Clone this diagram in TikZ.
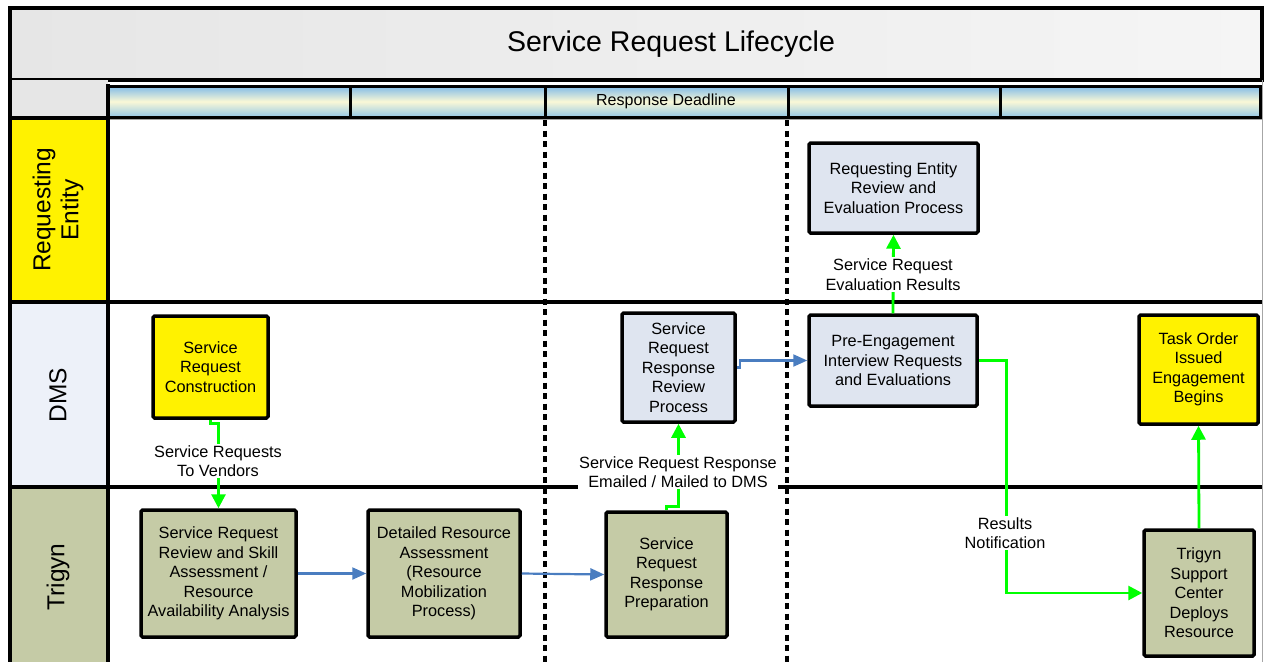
\documentclass[tikz,border=0pt]{standalone}
\usepackage{fontspec}
\setmainfont{Liberation Sans}
\usetikzlibrary{arrows.meta}
\definecolor{olivebox}{HTML}{C5CBA6}
\definecolor{bluebox}{HTML}{DFE5F0}
\definecolor{dmscell}{HTML}{EDF1F9}
\definecolor{graycell}{HTML}{E6E6E6}
\definecolor{gline}{HTML}{00FF00}
\definecolor{bline}{HTML}{4A7DC0}
\definecolor{bartop}{HTML}{7FBAE8}
\definecolor{barmid}{HTML}{FAF8D6}
\definecolor{barbot}{HTML}{95C8E6}
\tikzset{
  procbox/.style={draw=black, line width=3.5pt, rounded corners=1.5pt, align=center, inner sep=0pt,
     font=\fontsize{16.3}{19.5}\selectfont},
  greenflow/.style={draw=gline, line width=2.8pt, -{Triangle[length=14pt,width=14pt]}},
  blueflow/.style={draw=bline, line width=2.2pt, -{Triangle[length=14pt,width=12pt]}},
  flowlabel/.style={fill=white, align=center, inner sep=1.5pt, font=\fontsize{16.3}{19.5}\selectfont},
  lanelabel/.style={rotate=90, align=center, font=\fontsize{24.5}{28}\selectfont},
  laneline/.style={line width=3.2pt, black},
  deadline/.style={line width=3.5pt, black, dash pattern=on 6pt off 4.5pt},
  barseg/.style={top color=bartop, bottom color=barbot, middle color=barmid},
}
\begin{document}
\begin{tikzpicture}[x=1pt,y=-1pt]
\useasboundingbox (0,0) rectangle (1265,662);
% title
\shade[left color=graycell, right color=graycell!40!white] (10,8) rectangle (1262,80);
\draw[line width=3.5pt] (10,8) rectangle (1262,80);
\node[font=\fontsize{28.5}{30}\selectfont] (title) at (671,44) {Service Request Lifecycle};
% header row
\fill[graycell] (10,80) rectangle (108,118);
\foreach \a/\b in {108/350,350/545,545/788,788/1000,1000/1260}{
  \shade[barseg] (\a,86) rectangle (\b,117);
  \draw[line width=3pt] (\a,86) rectangle (\b,117);
}
\node[font=\fontsize{16}{18}\selectfont] (deadlinelabel) at (666,101) {Response Deadline};
% lane label cells
\fill[yellow] (10,118) rectangle (108,302);
\fill[dmscell] (10,302) rectangle (108,487);
\fill[olivebox] (10,487) rectangle (108,662);
\draw[gray!70, line width=0.8pt] (108,119) -- (1262,119);
\draw[gray!70, line width=0.8pt] (1262,80) -- (1262,662);
% lane lines
\draw[laneline] (10,118) -- (108,118);
\draw[laneline] (10,302) -- (1262,302);
\draw[laneline] (10,487) -- (1262,487);
\draw[laneline] (10,8) -- (10,662);
\draw[laneline] (108,84) -- (108,662);
% lane labels
\node[lanelabel] (lreq) at (58,210) {Requesting\\Entity};
\node[lanelabel] (ldms) at (58,395) {DMS};
\node[lanelabel] (ltri) at (58,577) {Trigyn};
% deadlines
\draw[deadline] (545,120) -- (545,662);
\draw[deadline] (787,120) -- (787,662);
% process boxes
\node[procbox, fill=yellow, minimum width=115pt, minimum height=102pt] (src) at (210.5,367) {Service\\Request\\Construction};
\node[procbox, fill=olivebox, minimum width=155pt, minimum height=127pt] (srrsa) at (218.5,573.5) {Service Request\\Review and Skill\\Assessment /\\Resource\\Availability Analysis};
\node[procbox, fill=olivebox, minimum width=152pt, minimum height=127pt] (dra) at (444,573.5) {Detailed Resource\\Assessment\\(Resource\\Mobilization\\Process)};
\node[procbox, fill=olivebox, minimum width=121pt, minimum height=125pt] (prep) at (666.5,574.5) {Service\\Request\\Response\\Preparation};
\node[procbox, fill=bluebox, minimum width=113pt, minimum height=109pt] (review) at (678.5,367.5) {Service\\Request\\Response\\Review\\Process};
\node[procbox, fill=bluebox, minimum width=169pt, minimum height=90pt] (reeval) at (893.5,188) {Requesting Entity\\Review and\\Evaluation Process};
\node[procbox, fill=bluebox, minimum width=168pt, minimum height=91pt] (preeng) at (893,360.5) {Pre-Engagement\\Interview Requests\\and Evaluations};
\node[procbox, fill=yellow, minimum width=119pt, minimum height=109pt] (task) at (1198.5,369.5) {Task Order\\Issued\\Engagement\\Begins};
\node[procbox, fill=olivebox, minimum width=110pt, minimum height=126pt] (tsc) at (1199,593) {Trigyn\\Support\\Center\\Deploys\\Resource};
% connectors
\draw[greenflow] (src.south) -- ++(0,4) -| (srrsa.north);
\draw[blueflow] (srrsa.east) -- (dra.west);
\draw[blueflow] (dra.east) -- (prep.west);
\draw[greenflow] (prep.north) -- ++(0,-4) -| (review.south);
\draw[blueflow] (review.east) -- ++(3,0) |- (preeng.west);
\draw[greenflow] (preeng.north) -- (reeval.south);
\draw[greenflow] (preeng.east) -- ++(28,0) |- (tsc.west);
\draw[greenflow] (tsc.north) -- (task.south);
% labels
\node[flowlabel] (l1) at (218,461) {Service Requests\\To Vendors};
\node[flowlabel] (l2) at (678,472) {Service Request Response\\Emailed / Mailed to DMS};
\node[flowlabel] (l3) at (893,274.5) {Service Request\\Evaluation Results};
\node[flowlabel] (l4) at (1005,533) {Results\\Notification};
\end{tikzpicture}
\end{document}
